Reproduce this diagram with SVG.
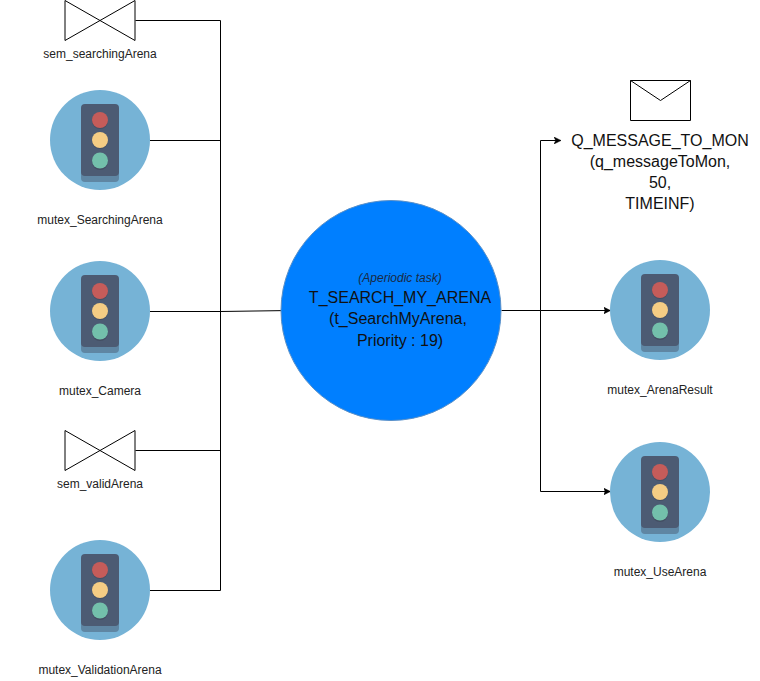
<svg xmlns="http://www.w3.org/2000/svg" xmlns:xlink="http://www.w3.org/1999/xlink" width="760" height="681" viewBox="0 0 760 681">
<style>
text{font-family:"Liberation Sans",Arial,sans-serif;fill:#000;text-anchor:middle}
.s{font-size:12px;fill:#222}
.m{font-size:16px;fill:#111}
.i{font-size:12px;font-style:italic;fill:#1a2a44}
.c{fill:none;stroke:#000;stroke-width:1}
.b{fill:#fff;stroke:#000;stroke-width:1;stroke-linejoin:round}
</style>
<defs>
<marker id="a" markerWidth="7" markerHeight="7" refX="6.5" refY="3.5" orient="auto" markerUnits="userSpaceOnUse"><path d="M0 0L7 3.5L0 7L1.75 3.5Z" fill="#000" stroke="#000" stroke-width="0.5"/></marker>
<g id="tl">
<circle cx="0" cy="0" r="50" fill="#76b3d6"/>
<rect x="-19" y="-33" width="38" height="75" rx="4" fill="#5f86a3"/>
<rect x="-19" y="-36" width="38" height="72" rx="4" fill="#4c5b73"/>
<circle cx="0" cy="-19" r="8" fill="#434e63"/><circle cx="0" cy="1" r="8" fill="#434e63"/><circle cx="0" cy="22" r="8" fill="#434e63"/>
<circle cx="0" cy="-20" r="8" fill="#c55c5a"/>
<circle cx="0" cy="0" r="8" fill="#f5cd84"/>
<circle cx="0" cy="20.500" r="8" fill="#73c0ab"/>
</g>
<path id="sem" d="M-35-20L35 20V-20L-35 20Z"/>
</defs>
<g id="connectors">
<path class="c" d="M135.500 20.500H220.500V590.500H150"/>
<path class="c" d="M150 140.500H220.500"/>
<path class="c" d="M135.500 450.500H220.500"/>
<path class="c" d="M150 311.500H220.500L290.500 310.500" marker-end="url(#a)"/>
<path class="c" d="M501.500 310.500H540.500V140.500H560.500" marker-end="url(#a)"/>
<path class="c" d="M540.500 310.500H610" marker-end="url(#a)"/>
<path class="c" d="M540.500 310.500V491.500H610" marker-end="url(#a)"/>
</g>
<g id="sem_searchingArena">
<use href="#sem" x="100" y="20.500" class="b"/>
<text class="s" x="100" y="58">sem_searchingArena</text>
</g>
<g id="mutex_SearchingArena">
<use href="#tl" x="100" y="140"/>
<text class="s" x="100" y="224">mutex_SearchingArena</text>
</g>
<g id="mutex_Camera">
<use href="#tl" x="100" y="311"/>
<text class="s" x="100" y="395">mutex_Camera</text>
</g>
<g id="sem_validArena">
<use href="#sem" x="100" y="450.500" class="b"/>
<text class="s" x="100" y="488">sem_validArena</text>
</g>
<g id="mutex_ValidationArena">
<use href="#tl" x="100" y="590"/>
<text class="s" x="100" y="674">mutex_ValidationArena</text>
</g>
<g id="t_search_my_arena">
<circle cx="391" cy="310.500" r="110" fill="#007fff" stroke="#5a90c8" stroke-width="1"/>
<text class="i" x="400" y="282">(Aperiodic task)</text>
<text class="m" x="400" y="303">T_SEARCH_MY_ARENA</text>
<text class="m" x="398" y="324">(t_SearchMyArena,</text>
<text class="m" x="400" y="346">Priority : 19)</text>
</g>
<g id="q_message_to_mon">
<rect class="b" x="630.500" y="80.500" width="60" height="40"/>
<path class="c" d="M630.500 80.500L660.500 100.500L690.500 80.500"/>
<text class="m" x="660" y="146">Q_MESSAGE_TO_MON</text>
<text class="m" x="660" y="167">(q_messageToMon,</text>
<text class="m" x="660" y="188">50,</text>
<text class="m" x="660" y="209">TIMEINF)</text>
</g>
<g id="mutex_ArenaResult">
<use href="#tl" x="660" y="310"/>
<text class="s" x="660" y="394">mutex_ArenaResult</text>
</g>
<g id="mutex_UseArena">
<use href="#tl" x="660" y="492"/>
<text class="s" x="660" y="576">mutex_UseArena</text>
</g>
</svg>
